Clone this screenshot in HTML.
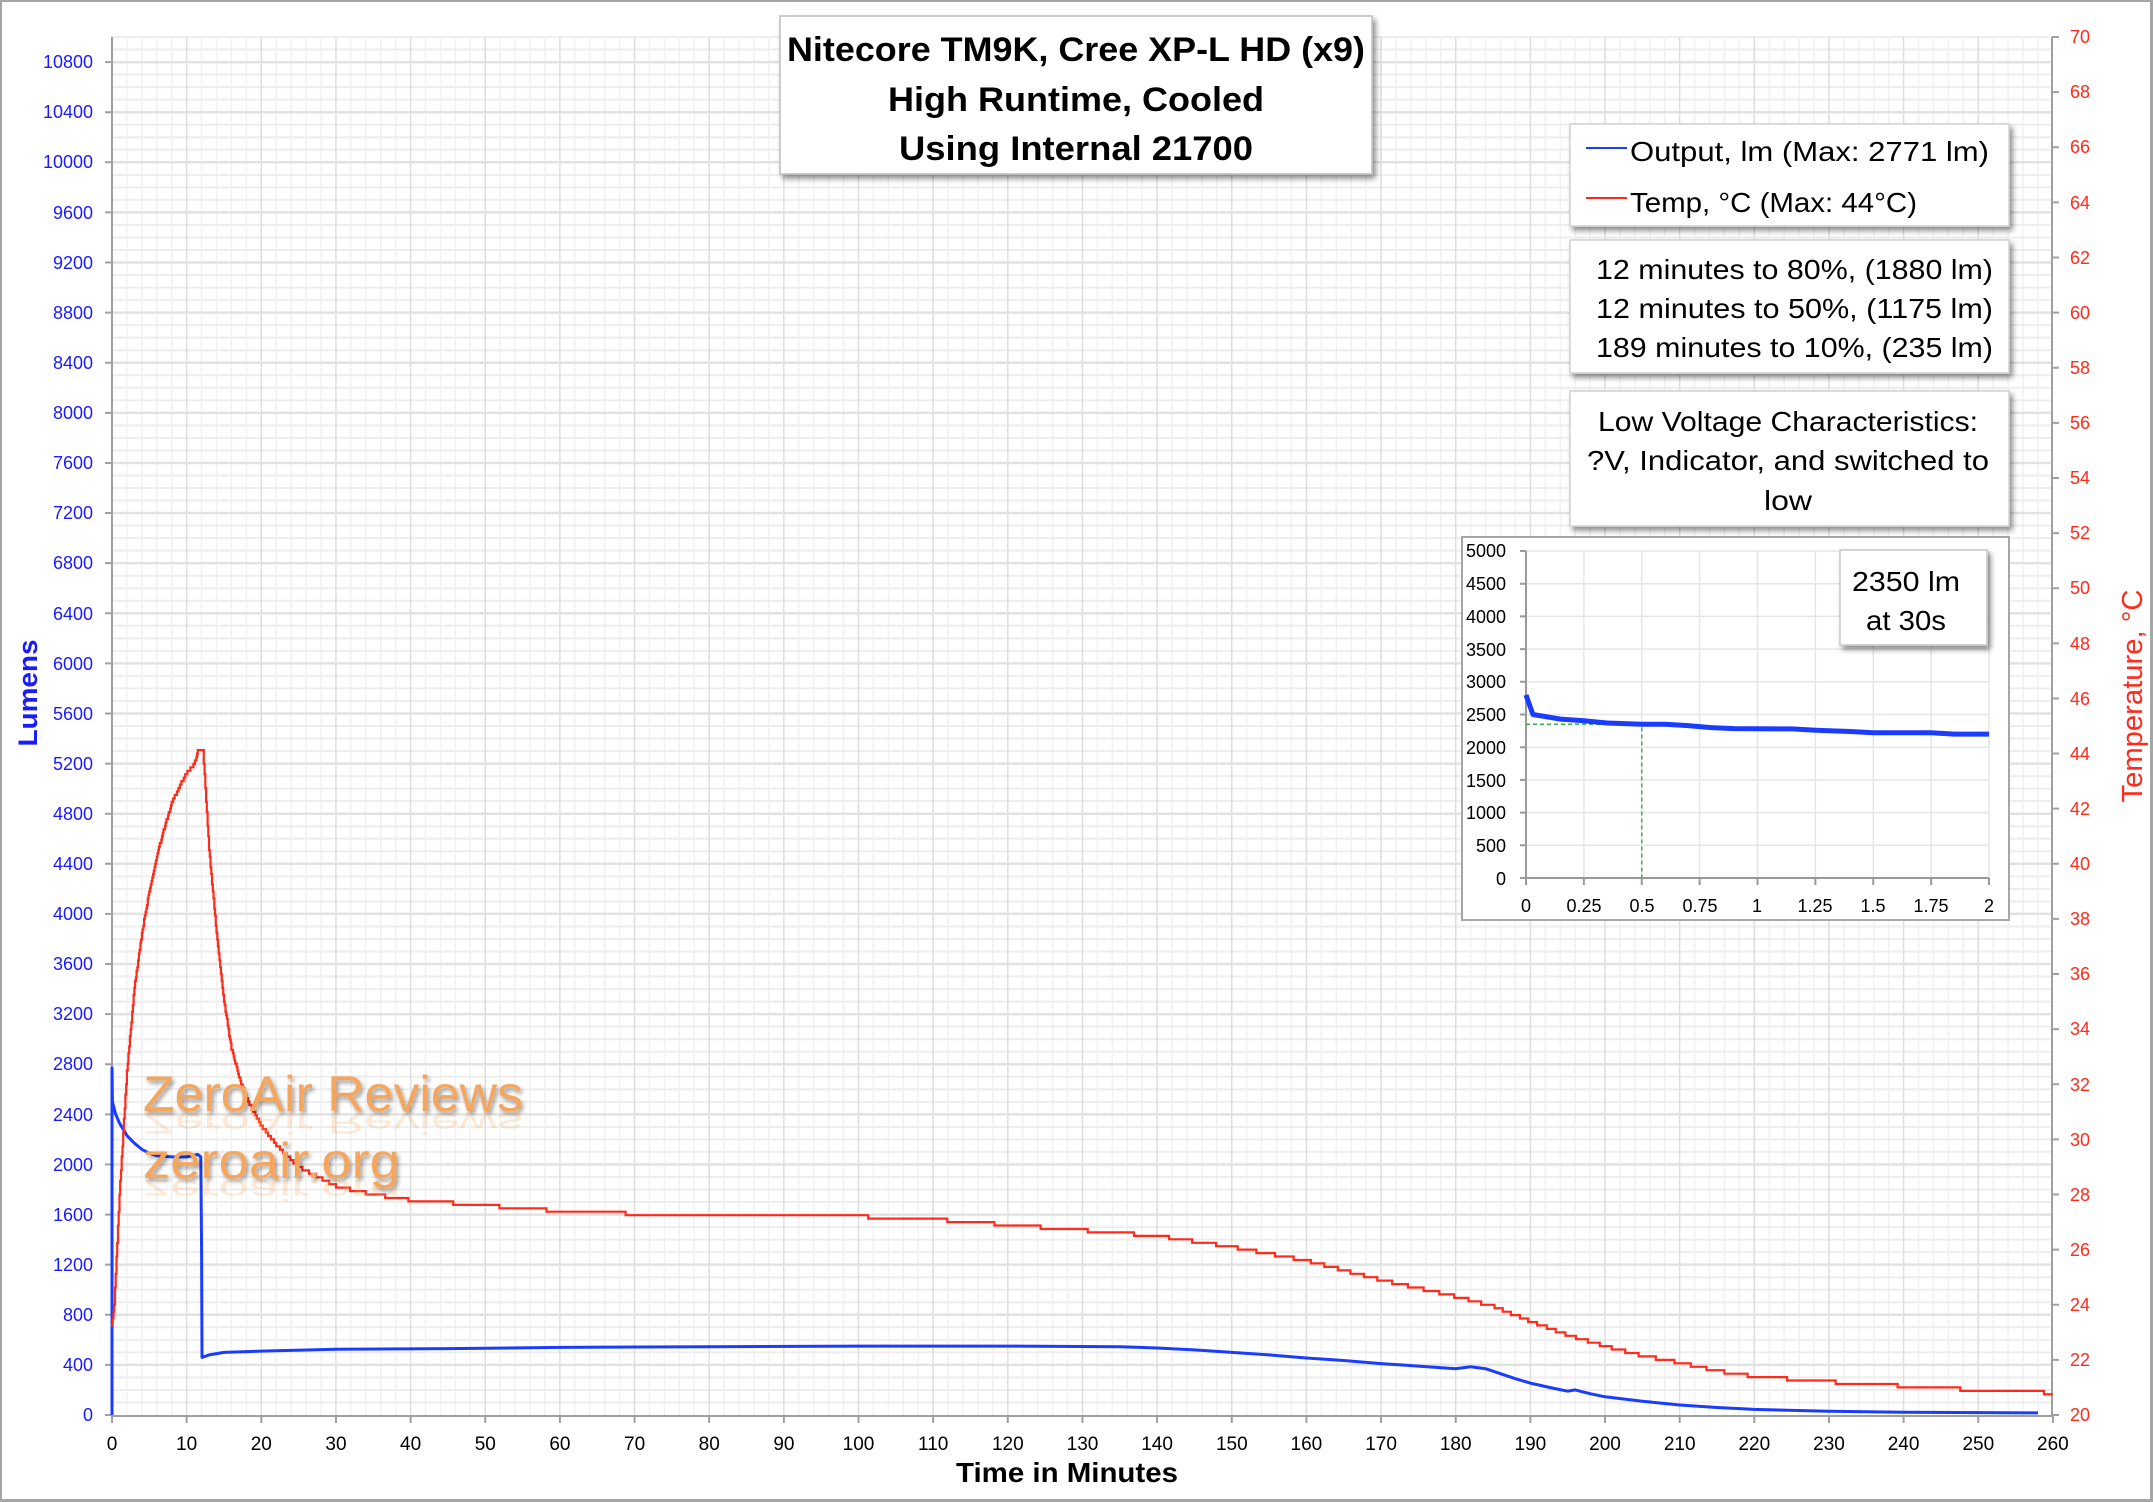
<!DOCTYPE html>
<html><head><meta charset="utf-8"><style>
html,body{margin:0;padding:0;background:#fff}
svg{display:block}
text{font-family:"Liberation Sans",sans-serif}
</style></head><body>
<svg id="s" width="2153" height="1502" viewBox="0 0 2153 1502" xmlns="http://www.w3.org/2000/svg">
<defs>
<filter id="sh" x="-10%" y="-10%" width="130%" height="140%"><feGaussianBlur in="SourceAlpha" stdDeviation="3"/><feOffset dx="3" dy="4"/><feComponentTransfer><feFuncA type="linear" slope="0.45"/></feComponentTransfer><feMerge><feMergeNode/><feMergeNode in="SourceGraphic"/></feMerge></filter>
<filter id="wsh" x="-5%" y="-20%" width="110%" height="160%"><feGaussianBlur in="SourceAlpha" stdDeviation="2"/><feOffset dx="2" dy="3"/><feComponentTransfer><feFuncA type="linear" slope="0.4"/></feComponentTransfer><feMerge><feMergeNode/><feMergeNode in="SourceGraphic"/></feMerge></filter>
</defs>
<rect x="0.5" y="0.5" width="2151" height="1500" fill="#fff" stroke="#a6a6a6" stroke-width="3"/>
<g id="grid"></g>
<line x1="112" y1="37" x2="112" y2="1416" stroke="#a0a0a0" stroke-width="2"/>
<line x1="112" y1="1416" x2="2052" y2="1416" stroke="#a0a0a0" stroke-width="2"/>
<line x1="2052" y1="37" x2="2052" y2="1416" stroke="#a0a0a0" stroke-width="2"/>
<g id="ticks" stroke="#a0a0a0" stroke-width="2"></g>
<g font-size="18" fill="#1a1aff" text-anchor="end">
<text x="93" y="1421">0</text><text x="93" y="1371">400</text><text x="93" y="1321">800</text><text x="93" y="1271">1200</text><text x="93" y="1221">1600</text><text x="93" y="1171">2000</text><text x="93" y="1121">2400</text><text x="93" y="1070">2800</text><text x="93" y="1020">3200</text><text x="93" y="970">3600</text><text x="93" y="920">4000</text><text x="93" y="870">4400</text><text x="93" y="820">4800</text><text x="93" y="770">5200</text><text x="93" y="720">5600</text><text x="93" y="670">6000</text><text x="93" y="620">6400</text><text x="93" y="569">6800</text><text x="93" y="519">7200</text><text x="93" y="469">7600</text><text x="93" y="419">8000</text><text x="93" y="369">8400</text><text x="93" y="319">8800</text><text x="93" y="269">9200</text><text x="93" y="219">9600</text><text x="93" y="168">10000</text><text x="93" y="118">10400</text><text x="93" y="68">10800</text>
</g>
<g font-size="18" fill="#ff2a1a" text-anchor="start">
<text x="2070" y="1421">20</text><text x="2070" y="1366">22</text><text x="2070" y="1311">24</text><text x="2070" y="1256">26</text><text x="2070" y="1201">28</text><text x="2070" y="1146">30</text><text x="2070" y="1091">32</text><text x="2070" y="1035">34</text><text x="2070" y="980">36</text><text x="2070" y="925">38</text><text x="2070" y="870">40</text><text x="2070" y="815">42</text><text x="2070" y="760">44</text><text x="2070" y="705">46</text><text x="2070" y="650">48</text><text x="2070" y="594">50</text><text x="2070" y="539">52</text><text x="2070" y="484">54</text><text x="2070" y="429">56</text><text x="2070" y="374">58</text><text x="2070" y="319">60</text><text x="2070" y="264">62</text><text x="2070" y="209">64</text><text x="2070" y="153">66</text><text x="2070" y="98">68</text><text x="2070" y="43">70</text>
</g>
<g font-size="19" fill="#000" text-anchor="middle">
<text x="112" y="1450">0</text><text x="186.6" y="1450">10</text><text x="261.3" y="1450">20</text><text x="336" y="1450">30</text><text x="410.6" y="1450">40</text><text x="485.3" y="1450">50</text><text x="559.9" y="1450">60</text><text x="634.6" y="1450">70</text><text x="709.2" y="1450">80</text><text x="783.9" y="1450">90</text><text x="858.5" y="1450">100</text><text x="933.2" y="1450">110</text><text x="1007.8" y="1450">120</text><text x="1082.5" y="1450">130</text><text x="1157.1" y="1450">140</text><text x="1231.8" y="1450">150</text><text x="1306.4" y="1450">160</text><text x="1381.1" y="1450">170</text><text x="1455.7" y="1450">180</text><text x="1530.4" y="1450">190</text><text x="1605" y="1450">200</text><text x="1679.7" y="1450">210</text><text x="1754.3" y="1450">220</text><text x="1829" y="1450">230</text><text x="1903.6" y="1450">240</text><text x="1978.3" y="1450">250</text><text x="2052.9" y="1450">260</text>
</g>
<text x="1067" y="1482" font-size="28" font-weight="bold" text-anchor="middle" textLength="222" lengthAdjust="spacingAndGlyphs">Time in Minutes</text>
<text transform="translate(37,693) rotate(-90)" font-size="27" font-weight="bold" fill="#1a1aff" text-anchor="middle" textLength="107" lengthAdjust="spacingAndGlyphs">Lumens</text>
<text transform="translate(2142,696) rotate(-90)" font-size="29" fill="#ff2a1a" text-anchor="middle" textLength="213" lengthAdjust="spacingAndGlyphs">Temperature, °C</text>

<g id="series"></g>

<g filter="url(#wsh)">
<text x="143" y="1111" font-size="50" fill="#f5a65b" textLength="380" lengthAdjust="spacingAndGlyphs">ZeroAir Reviews</text>
<text x="143" y="1178" font-size="50" fill="#f5a65b" textLength="257" lengthAdjust="spacingAndGlyphs">zeroair.org</text>
</g>
<text transform="translate(143,1113) scale(1,-0.6)" font-size="50" fill="#f5a65b" fill-opacity="0.25" textLength="380" lengthAdjust="spacingAndGlyphs">ZeroAir Reviews</text>
<text transform="translate(143,1180) scale(1,-0.6)" font-size="50" fill="#f5a65b" fill-opacity="0.25" textLength="257" lengthAdjust="spacingAndGlyphs">zeroair.org</text>

<rect x="780" y="16" width="592" height="158" fill="#fff" stroke="#bdbdbd" stroke-width="1.5" filter="url(#sh)"/>
<g font-size="34" font-weight="bold" text-anchor="middle">
<text x="1076" y="61" textLength="578" lengthAdjust="spacingAndGlyphs">Nitecore TM9K, Cree XP-L HD (x9)</text>
<text x="1076" y="111" textLength="376" lengthAdjust="spacingAndGlyphs">High Runtime, Cooled</text>
<text x="1076" y="160" textLength="354" lengthAdjust="spacingAndGlyphs">Using Internal 21700</text>
</g>

<rect x="1570" y="124" width="439" height="102" fill="#fff" stroke="#d0d0d0" stroke-width="1.5" filter="url(#sh)"/>
<line x1="1586" y1="148" x2="1627" y2="148" stroke="#1a3cff" stroke-width="2"/>
<line x1="1586" y1="198" x2="1627" y2="198" stroke="#ff2a1a" stroke-width="2"/>
<g font-size="28">
<text x="1630" y="161" textLength="359" lengthAdjust="spacingAndGlyphs">Output, lm (Max: 2771 lm)</text>
<text x="1630" y="212" textLength="287" lengthAdjust="spacingAndGlyphs">Temp, °C (Max: 44°C)</text>
</g>
<rect x="1570" y="240" width="439" height="133" fill="#fff" stroke="#d0d0d0" stroke-width="1.5" filter="url(#sh)"/>
<g font-size="28" text-anchor="end">
<text x="1993" y="279" textLength="397" lengthAdjust="spacingAndGlyphs">12 minutes to 80%, (1880 lm)</text>
<text x="1993" y="318" textLength="397" lengthAdjust="spacingAndGlyphs">12 minutes to 50%, (1175 lm)</text>
<text x="1993" y="357" textLength="397" lengthAdjust="spacingAndGlyphs">189 minutes to 10%, (235 lm)</text>
</g>
<rect x="1570" y="391" width="439" height="135" fill="#fff" stroke="#d0d0d0" stroke-width="1.5" filter="url(#sh)"/>
<g font-size="28" text-anchor="middle">
<text x="1788" y="431" textLength="380" lengthAdjust="spacingAndGlyphs">Low Voltage Characteristics:</text>
<text x="1788" y="470" textLength="402" lengthAdjust="spacingAndGlyphs">?V, Indicator, and switched to</text>
<text x="1788" y="510" textLength="48" lengthAdjust="spacingAndGlyphs">low</text>
</g>

<rect x="1462" y="537" width="547" height="383" fill="#fff" stroke="#a6a6a6" stroke-width="2"/>
<g id="inset"></g>
<g font-size="18" fill="#000" text-anchor="end">
<text x="1506" y="885">0</text><text x="1506" y="852">500</text><text x="1506" y="819">1000</text><text x="1506" y="787">1500</text><text x="1506" y="754">2000</text><text x="1506" y="721">2500</text><text x="1506" y="688">3000</text><text x="1506" y="656">3500</text><text x="1506" y="623">4000</text><text x="1506" y="590">4500</text><text x="1506" y="557">5000</text>
</g>
<g font-size="18" fill="#000" text-anchor="middle">
<text x="1526" y="912">0</text><text x="1584" y="912">0.25</text><text x="1642" y="912">0.5</text><text x="1700" y="912">0.75</text><text x="1757" y="912">1</text><text x="1815" y="912">1.25</text><text x="1873" y="912">1.5</text><text x="1931" y="912">1.75</text><text x="1989" y="912">2</text>
</g>
<rect x="1840" y="550" width="147" height="95" fill="#fff" stroke="#c8c8c8" stroke-width="1.5" filter="url(#sh)"/>
<g font-size="28" text-anchor="middle">
<text x="1906" y="591" textLength="108" lengthAdjust="spacingAndGlyphs">2350 lm</text>
<text x="1906" y="630" textLength="80" lengthAdjust="spacingAndGlyphs">at 30s</text>
</g>
</svg>
<script>
(function(){
var NS="http://www.w3.org/2000/svg";
function el(p,n,a){var e=document.createElementNS(NS,n);for(var k in a)e.setAttribute(k,a[k]);p.appendChild(e);return e;}
var X=function(t){return 112+t*7.465;}, YL=function(v){return 1415-v*0.12527;}, YT=function(c){return 1415-(c-20)*27.56;};
var g=document.getElementById('grid');
var d1="",d2="",d3="",d4="";
for(var t=2;t<260;t+=2){ if(t%10) d1+="M"+X(t)+" 37V1415"; else d2+="M"+X(t)+" 37V1415"; }
for(var v=100;v<=11000;v+=100){ var y=YL(v); if(v%400) d3+="M112 "+y+"H2052"; else d4+="M112 "+y+"H2052"; }
el(g,'path',{d:d1,stroke:'#f1f1f1','stroke-width':1.5,fill:'none'});
el(g,'path',{d:d3,stroke:'#eeeeee','stroke-width':2,fill:'none'});
el(g,'path',{d:d2,stroke:'#dedede','stroke-width':1.5,fill:'none'});
el(g,'path',{d:d4,stroke:'#e2e2e2','stroke-width':2.5,fill:'none'});
var tk=document.getElementById('ticks'),td="";
for(var v=0;v<=10800;v+=400) td+="M105 "+YL(v)+"H112";
for(var c=20;c<=70;c+=2) td+="M2052 "+YT(c)+"H2059";
for(var t=0;t<=260;t+=10) td+="M"+X(t)+" 1416V1423";
el(tk,'path',{d:td,fill:'none'});
function interp(a,t){for(var i=1;i<a.length;i++){if(t<=a[i][0]){var p=a[i-1],q=a[i];return p[1]+(q[1]-p[1])*(t-p[0])/(q[0]-p[0]);}}return a[a.length-1][1];}
var temp=[[0,23.3],[0.3,24],[1,28],[2,32.5],[3,35.5],[4,37.5],[5,39],[6,40.3],[7,41.3],[8,42.2],[9,42.8],[10,43.3],[11,43.6],[11.5,44.1],[12.2,44.1],[13,40.5],[14,37.5],[15,35],[16,33.3],[17,32.3],[18,31.5],[20,30.5],[22,29.8],[25,29],[30,28.3],[35,28],[40,27.8],[50,27.6],[60,27.4],[70,27.3],[80,27.2],[100,27.2],[110,27.1],[120,26.9],[130,26.7],[140,26.5],[150,26.1],[160,25.6],[170,24.9],[180,24.3],[185,23.95],[190,23.4],[195,22.9],[200,22.5],[205,22.15],[210,21.9],[215,21.6],[220,21.4],[230,21.2],[240,21.05],[250,20.9],[260,20.8]];
var s=document.getElementById('series');
var rd="M"+X(0)+" "+YT(23.3),prev=null;
for(var t=0;t<=260;t+=0.1){var c=Math.round(interp(temp,t)*8)/8;var y=YT(c);if(prev===null||y!==prev){rd+="H"+X(t).toFixed(1)+"V"+y.toFixed(1);prev=y;}}
rd+="H"+X(260);
var out=[[0,0],[0,2771],[0.05,2500],[0.5,2400],[1,2330],[2,2230],[3,2170],[4,2120],[5,2090],[6,2070],[8,2060],[10,2060],[11.5,2080],[11.9,2060],[12,1300],[12.05,460],[13,480],[15,500],[20,510],[30,525],[45,530],[60,540],[80,545],[100,550],[120,550],[135,545],[140,535],[145,520],[150,500],[155,480],[160,455],[165,435],[170,410],[175,390],[180,370],[182,385],[184,370],[186,330],[188,290],[190,255],[193,215],[195,190],[196,200],[198,170],[200,145],[205,110],[210,80],[215,60],[220,45],[230,30],[240,22],[258,17]];
var bd="";for(var i=0;i<out.length;i++)bd+=(i?"L":"M")+X(out[i][0]).toFixed(1)+" "+YL(out[i][1]).toFixed(1);
el(s,'path',{d:bd,stroke:'#1a3cff','stroke-width':3,fill:'none','stroke-linejoin':'round'});
el(s,'path',{d:rd,stroke:'#ff2a1a','stroke-width':2.2,fill:'none'});
var ig=document.getElementById('inset');
var IX=function(t){return 1526+t*231.5;}, IY=function(v){return 878-v*0.0654;};
var gd="";for(var k=1;k<=8;k++)gd+="M"+IX(k*0.25)+" 551V878";for(var v=500;v<=5000;v+=500)gd+="M1526 "+IY(v)+"H1989";
el(ig,'path',{d:gd,stroke:'#e6e6e6','stroke-width':1.5,fill:'none'});
var at="M1526 551V878H1989";for(var v=0;v<=5000;v+=500)at+="M1520 "+IY(v)+"H1526";for(var k=0;k<=8;k++)at+="M"+IX(k*0.25)+" 878V885";
el(ig,'path',{d:at,stroke:'#999','stroke-width':2,fill:'none'});
el(ig,'path',{d:"M1526 "+IY(2350)+"H"+IX(0.5)+"V878",stroke:'#3fae4a','stroke-width':1.5,'stroke-dasharray':'4,3',fill:'none'});
var ins=[[0,2800],[0.03,2500],[0.15,2430],[0.25,2405],[0.35,2370],[0.5,2350],[0.6,2350],[0.7,2330],[0.8,2300],[0.9,2285],[1.15,2280],[1.25,2260],[1.4,2240],[1.5,2220],[1.75,2220],[1.85,2200],[2,2200]];
var idd="";for(var i=0;i<ins.length;i++)idd+=(i?"L":"M")+IX(ins[i][0]).toFixed(1)+" "+IY(ins[i][1]).toFixed(1);
el(ig,'path',{d:idd,stroke:'#1a3cff','stroke-width':5,fill:'none','stroke-linejoin':'round'});
})();
</script>
</body></html>
